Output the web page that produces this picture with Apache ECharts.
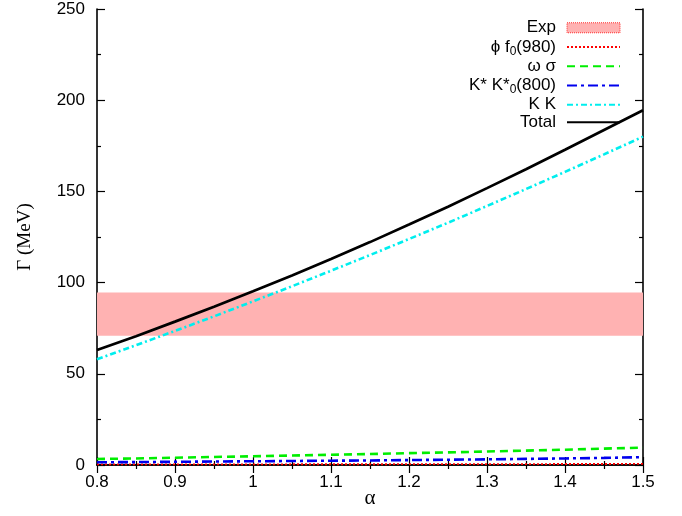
<!DOCTYPE html>
<html>
<head>
<meta charset="utf-8">
<script src="https://cdn.jsdelivr.net/npm/echarts@6/dist/echarts.min.js"></script>
<style>
html,body{margin:0;padding:0;background:#fff;}
#chart{width:682px;height:516px;}
</style>
</head>
<body>
<div id="chart"></div>
<script>
// ---- data ----
var alpha = [0.8, 0.85, 0.9, 0.95, 1.0, 1.05, 1.1, 1.15, 1.2, 1.25, 1.3, 1.35, 1.4, 1.45, 1.5];
var phiF0 = [0.3, 0.3, 0.3, 0.35, 0.35, 0.4, 0.4, 0.4, 0.45, 0.45, 0.5, 0.5, 0.55, 0.55, 0.6];
var omegaSigma = [3.3, 3.6, 4.0, 4.4, 4.8, 5.2, 5.6, 6.0, 6.5, 6.9, 7.4, 7.9, 8.4, 9.0, 9.5];
var kstarK0 = [1.5, 1.6, 1.75, 1.9, 2.05, 2.2, 2.35, 2.5, 2.7, 2.9, 3.1, 3.35, 3.6, 3.9, 4.3];
var kk = [58, 65.7, 73.5, 81.5, 89.7, 98, 106.5, 115.1, 123.9, 132.8, 142, 151.3, 160.7, 170.3, 180];
var total = [63, 70.6, 78.6, 86.7, 95.2, 103.9, 113, 122.2, 131.8, 141.6, 151.8, 162.1, 172.8, 183.7, 194.5];
var expLow = 70.8;
var expHigh = 94.6;
var xTicks = {min: 0.8, max: 1.5, step: 0.1};
var yTicks = {min: 0, max: 250, step: 50};

function pairs(ys) { return alpha.map(function (a, i) { return [a, ys[i]]; }); }

var SANS = "'Liberation Sans', Helvetica, Arial, sans-serif";
var SERIF = "'Liberation Serif', 'Times New Roman', serif";
var LH = 17.5;
var richStyles = {
  n: {fontSize: 17, fontFamily: SANS, color: '#000', lineHeight: LH},
  s: {fontSize: 12, fontFamily: SANS, color: '#000', lineHeight: LH, padding: [9, 0, 0, 0]}
};
var legendLabels = {
  'Exp': '{n|Exp}',
  'phi': '{n|\u03d5 f}{s|0}{n|(980)}',
  'omega': '{n|\u03c9 \u03c3}',
  'kstar': '{n|K* K*}{s|0}{n|(800)}',
  'kk': '{n|K K}',
  'Total': '{n|Total}'
};

var axisLineStyle = {color: '#000', width: 1.6};

function xAxisDef(pos, showLabel) {
  return {
    type: 'value', position: pos, min: xTicks.min, max: xTicks.max, interval: xTicks.step,
    axisLine: {show: true, lineStyle: axisLineStyle},
    axisTick: {show: true, inside: true, length: 8, lineStyle: {color: '#000', width: 1.2}},
    minorTick: {show: true, splitNumber: 2, length: 4, lineStyle: {color: '#000', width: 1.2}},
    splitLine: {show: false},
    axisLabel: {show: showLabel, color: '#000', fontSize: 17, fontFamily: SANS, margin: 9},
    name: showLabel ? '\u03b1' : '', nameLocation: 'middle', nameGap: 23, nameMoveOverlap: false,
    nameTextStyle: {fontFamily: SERIF, fontSize: 21, color: '#000'}
  };
}
function yAxisDef(pos, showLabel) {
  return {
    type: 'value', position: pos, min: yTicks.min, max: yTicks.max, interval: yTicks.step,
    axisLine: {show: true, lineStyle: axisLineStyle},
    axisTick: {show: true, inside: true, length: 8, lineStyle: {color: '#000', width: 1.2}},
    minorTick: {show: true, splitNumber: 2, length: 4, lineStyle: {color: '#000', width: 1.2}},
    splitLine: {show: false},
    axisLabel: {show: showLabel, color: '#000', fontSize: 17, fontFamily: SANS, margin: 12},
    name: showLabel ? '\u0393 (MeV)' : '', nameLocation: 'middle', nameGap: 62, nameRotate: 90, nameMoveOverlap: false,
    nameTextStyle: {fontFamily: SERIF, fontSize: 19, color: '#000'}
  };
}

function lineSeries(name, ys, color, width, dash, z) {
  return {
    type: 'line', name: name, data: pairs(ys), xAxisIndex: 0, yAxisIndex: 0,
    symbol: 'none', showSymbol: false, smooth: false, z: z,
    lineStyle: {color: color, width: width, type: dash},
    itemStyle: {color: color},
    emphasis: {disabled: true}
  };
}

var chart = echarts.init(document.getElementById('chart'), null, {renderer: 'canvas'});
chart.setOption({
  animation: false,
  backgroundColor: '#fff',
  grid: {left: 97, right: 39, top: 9, bottom: 51, containLabel: false, outerBoundsMode: 'none'},
  xAxis: [xAxisDef('bottom', true), xAxisDef('top', false)],
  yAxis: [yAxisDef('left', true), yAxisDef('right', false)],
  legend: {
    orient: 'vertical', right: 61, top: 19, padding: 0, align: 'right',
    itemWidth: 53, itemHeight: 10, itemGap: 0,
    selectedMode: false,
    itemStyle: {opacity: 0},
    formatter: function (name) { return legendLabels[name]; },
    textStyle: {color: '#000', fontSize: 17, fontFamily: SANS, lineHeight: LH, padding: [0, 6, 0, 0], rich: richStyles},
    data: [
      {name: 'Exp', icon: 'rect', itemStyle: {color: '#ffb2b2', opacity: 1, borderColor: '#ff3030', borderWidth: 1, borderType: 'dotted'}},
      'phi', 'omega', 'kstar', 'kk', 'Total'
    ]
  },
  series: [
    {
      type: 'line', name: 'Exp', data: [], symbol: 'none', z: 1,
      itemStyle: {color: '#ffb2b2'},
      markArea: {
        silent: true,
        itemStyle: {color: '#ffb2b2', opacity: 1},
        data: [[{yAxis: expLow}, {yAxis: expHigh}]]
      }
    },
    lineSeries('phi', phiF0, '#ff0000', 1.8, [2, 2], 3),
    lineSeries('omega', omegaSigma, '#00ee00', 2.6, [8, 5], 3),
    lineSeries('kstar', kstarK0, '#0000ee', 2.6, [10, 4, 3, 4], 3),
    lineSeries('kk', kk, '#00eeee', 2.6, [6, 3, 2, 3], 3),
    lineSeries('Total', total, '#000000', 2.7, 'solid', 4)
  ]
});
</script>
</body>
</html>
